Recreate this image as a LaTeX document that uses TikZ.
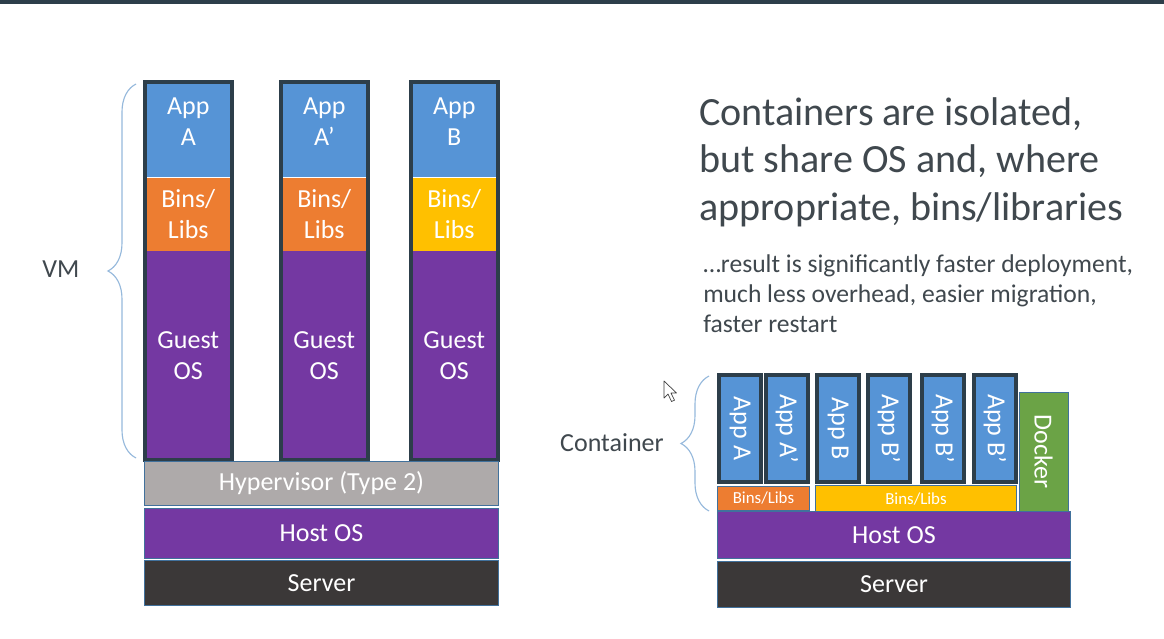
\documentclass[tikz,border=0pt]{standalone}
\usepackage{fontspec}
\setmainfont{Carlito}
\usepackage{xcolor}
\usepackage{tikz}
\usetikzlibrary{positioning,calc,decorations.pathreplacing}
\definecolor{AppBlue}{RGB}{86,148,214}
\definecolor{LibOrange}{RGB}{237,125,49}
\definecolor{LibYellow}{RGB}{255,192,0}
\definecolor{OSPurple}{RGB}{116,56,162}
\definecolor{HypGray}{RGB}{174,170,170}
\definecolor{SrvDark}{RGB}{59,56,56}
\definecolor{DockGreen}{RGB}{107,163,70}
\definecolor{FrameDark}{RGB}{45,62,74}
\definecolor{EdgeBlue}{RGB}{65,113,156}
\definecolor{BraceBlue}{RGB}{150,185,220}
\definecolor{TextGray}{RGB}{64,72,78}
\newcommand{\appdrop}{\rule[-11.5pt]{0pt}{0pt}}

\begin{document}
\begin{tikzpicture}[x=0.025cm, y=-0.025cm, node distance=0cm]
  \tikzstyle{layer} = [rectangle, inner sep=0pt, text=white, align=center, font=\fontsize{18.5}{22}\selectfont]
  \tikzstyle{vmapp} = [layer, fill=AppBlue, minimum width=2.15cm, minimum height=2.375cm]
  \tikzstyle{vmlib} = [layer, minimum width=2.15cm, minimum height=1.825cm]
  \tikzstyle{guest} = [layer, fill=OSPurple, minimum width=2.15cm, minimum height=5.2cm]
  \tikzstyle{colframe} = [draw=FrameDark, line width=0.1cm]
  \tikzstyle{slab} = [layer, draw=EdgeBlue, line width=0.6pt]
  \tikzstyle{ctapp} = [layer, fill=AppBlue, draw=FrameDark, line width=0.1cm, rotate=-90, minimum width=2.675cm, minimum height=1.05cm]
  \tikzstyle{ctlib} = [layer, draw=EdgeBlue, line width=0.6pt, font=\fontsize{12}{14}\selectfont]
  \tikzstyle{bracket} = [draw=BraceBlue, line width=0.8pt, decorate, decoration={brace, amplitude=0.7cm}]
  \tikzstyle{caption} = [text=TextGray, inner sep=0pt, font=\fontsize{18.5}{22}\selectfont]

  \useasboundingbox (0,0) rectangle (1164,638);
  \fill[white] (0,0) rectangle (1164,638);
  \fill[FrameDark] (0,0) rectangle (1164,4);

  % virtual machines
  \node [vmapp, anchor=north west] (appA) at (145,82) {App\\A\appdrop};
  \node [vmlib, fill=LibOrange, below=of appA] (libA) {Bins/\\Libs};
  \node [guest, below=of libA] (osA) {Guest\\OS};
  \draw [colframe] (appA.north west) rectangle (osA.south east);

  \node [vmapp, anchor=north west] (appAp) at (281,82) {App\\A’\appdrop};
  \node [vmlib, fill=LibOrange, below=of appAp] (libAp) {Bins/\\Libs};
  \node [guest, below=of libAp] (osAp) {Guest\\OS};
  \draw [colframe] (appAp.north west) rectangle (osAp.south east);

  \node [vmapp, anchor=north west] (appB) at (411,82) {App\\B\appdrop};
  \node [vmlib, fill=LibYellow, below=of appB] (libB) {Bins/\\Libs};
  \node [guest, below=of libB] (osB) {Guest\\OS};
  \draw [colframe] (appB.north west) rectangle (osB.south east);

  \node [slab, fill=HypGray, anchor=north west, minimum width=8.85cm, minimum height=1.1cm] (hyper) at (144,461) {Hypervisor (Type 2)};
  \node [slab, fill=OSPurple, minimum width=8.85cm, minimum height=1.25cm, below=0.05cm of hyper] (hostL) {Host OS};
  \node [slab, fill=SrvDark, minimum width=8.85cm, minimum height=1.125cm, below=0.03cm of hostL] (serverL) {Server};

  \coordinate (vmtop) at (136,84);
  \coordinate (vmbot) at (136,458);
  \draw [bracket] (vmbot) -- (vmtop);
  \node [caption] (vm) at (61,269) {VM};

  % containers
  \node [ctapp] (ctA) at (740,428.5) {App A};
  \node [ctapp] (ctAp) at (787,428.5) {App A’};
  \node [ctapp] (ctB) at (838,428.5) {App B};
  \node [ctapp] (ctBp1) at (889,428.5) {App B’};
  \node [ctapp] (ctBp2) at (943,428.5) {App B’};
  \node [ctapp] (ctBp3) at (995,428.5) {App B’};

  \node [ctlib, fill=LibOrange, anchor=north west, minimum width=2.3cm, minimum height=0.6cm] (binsA) at (717,486) {Bins/Libs};
  \node [ctlib, fill=LibYellow, anchor=north west, minimum width=5.025cm, minimum height=0.7cm] (binsB) at (815,485) {Bins/Libs};
  \node [layer, fill=DockGreen, draw=EdgeBlue, line width=0.6pt, rotate=-90, minimum width=2.975cm, minimum height=1.225cm] (docker) at (1043.5,451.5) {Docker};

  \node [slab, fill=OSPurple, anchor=north west, minimum width=8.825cm, minimum height=1.175cm] (hostR) at (717,511) {Host OS};
  \node [slab, fill=SrvDark, minimum width=8.825cm, minimum height=1.15cm, below=0.05cm of hostR] (serverR) {Server};

  \coordinate (cttop) at (709,376);
  \coordinate (ctbot) at (709,511);
  \draw [bracket] (ctbot) -- (cttop);
  \node [caption] (container) at (612,443) {Container};

  % cursor
  \draw [black!75, fill=white, line width=0.5pt, line join=round] (664,381) -- ++(0,17) -- ++(4,-4) -- ++(3.5,7.5) -- ++(3,-1.3) -- ++(-3.5,-7.2) -- ++(5.5,0) -- cycle;

  % text
  \node [anchor=north west, inner sep=0pt, text=TextGray, align=left, font=\fontsize{28.5}{34}\selectfont] (headline) at (699,97) {Containers are isolated,\\but share OS and, where\\appropriate, bins/libraries};
  \node [anchor=north west, inner sep=0pt, text=TextGray, align=left, font=\fontsize{18.2}{21.4}\selectfont] (result) at (703,254) {…result is significantly faster deployment,\\much less overhead, easier migration,\\faster restart};
\end{tikzpicture}
\end{document}
